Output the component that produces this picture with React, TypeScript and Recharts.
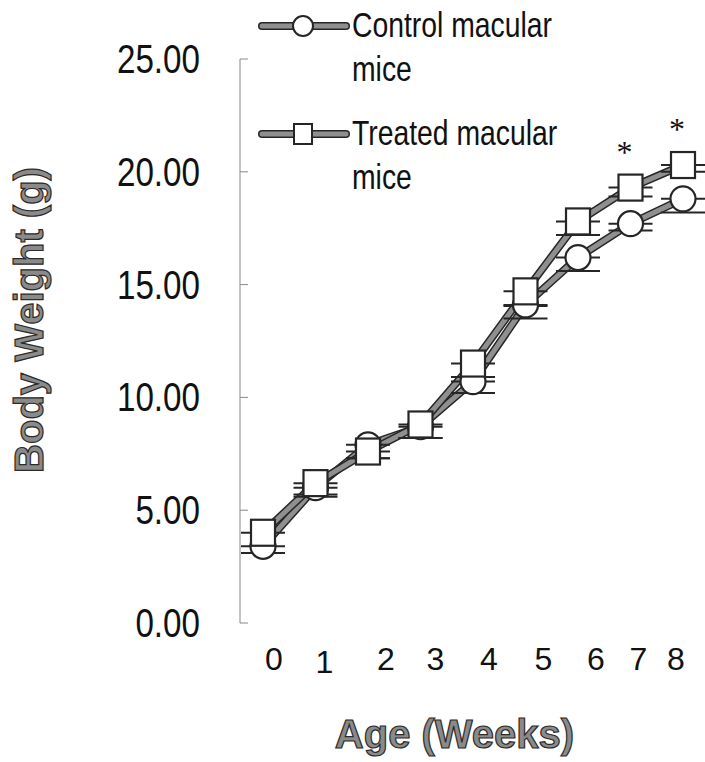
import { LineChart, Line, XAxis, YAxis, ErrorBar, Legend, Label } from 'recharts';

const weeks = [0, 1, 2, 3, 4, 5, 6, 7, 8];
const controlWeight = [3.4, 6.0, 7.9, 8.7, 10.7, 14.1, 16.2, 17.7, 18.8];
const treatedWeight = [4.0, 6.2, 7.6, 8.8, 11.5, 14.7, 17.8, 19.3, 20.3];
const controlErr = [0.3, 0.3, 0.6, 0.5, 0.5, 0.6, 0.6, 0.3, 0.6];
const treatedErr = [0.9, 0.6, 0.3, 0.6, 0.6, 0.65, 0.6, 0.4, 0.3];
const significance = ['', '', '', '', '', '', '', '*', '*'];
const yTicks = [0, 5, 10, 15, 20, 25];
const seriesNames = ['Control macular', 'Treated macular'];

// the x labels in the original sit a bit off their points
const xLabelShift = [11, 9, 18, 15, 16, 18, 18, 8, -7];

const data = weeks.map((w, i) => ({
    week: w,
    control: controlWeight[i],
    treated: treatedWeight[i],
    controlErr: [controlErr[i], 0],
    treatedErr: [treatedErr[i], 0],
    sig: significance[i],
}));

const OUTLINE = '#262626';
const BAND = '#8f8f8f';
const SANS = '"Liberation Sans", Arial, sans-serif';

const CircleDot = (props: any) => {
    const { cx, cy } = props;
    if (cx == null || cy == null) return null;
    return <circle key={`c${props.index}`} cx={cx} cy={cy} r={12.5} fill="#fff" stroke={OUTLINE} strokeWidth={2.2} />;
};

const SquareDot = (props: any) => {
    const { cx, cy, payload } = props;
    if (cx == null || cy == null) return null;
    return (
        <g key={`s${props.index}`}>
            <rect x={cx - 12} y={cy - 13} width={24} height={26} fill="#fff" stroke={OUTLINE} strokeWidth={2.2} />
            {payload.sig && (
                <text x={cx - 6} y={cy - 25} textAnchor="middle" fontSize={32} fontFamily='"Liberation Serif", serif' fill="#111">
                    {payload.sig}
                </text>
            )}
        </g>
    );
};

// narrow text: regular face squeezed sideways
const Narrow = ({ x, y, size, sx, anchor = 'start', children }: any) => (
    <text transform={`translate(${x} ${y}) scale(${sx} 1)`} textAnchor={anchor} fontSize={size} fontFamily={SANS} fill="#111">
        {children}
    </text>
);

const YTick = (props: any) => {
    const { x, y, payload } = props;
    return (
        <g>
            <line x1={x} x2={x + 8} y1={y} y2={y} stroke="#888" strokeWidth={1} />
            <Narrow x={x - 40} y={y + 14} size={40} sx={0.83} anchor="end">
                {payload.value.toFixed(2)}
            </Narrow>
        </g>
    );
};

const XTick = (props: any) => {
    const { x, y, payload, index } = props;
    return (
        <text x={x + (xLabelShift[index] ?? 0)} y={y + 47 + (payload.value === 1 ? 3 : 0)} textAnchor="middle" fontSize={32} fontFamily={SANS} fill="#111">
            {payload.value}
        </text>
    );
};

const titleStyle = { fontSize: 40, fontWeight: 700, fontFamily: SANS, fill: '#8a8a8a', stroke: '#2b2b2b', strokeWidth: 1.2 };

const XTitle = (props: any) => {
    const vb = props.viewBox;
    return (
        <text x={vb.x + vb.width / 2 - 13} y={vb.y + 125} textAnchor="middle" style={titleStyle}>
            Age (Weeks)
        </text>
    );
};

const YTitle = (props: any) => {
    const vb = props.viewBox;
    const cy = vb.y + vb.height / 2 - 21;
    return (
        <text x={43} y={cy} transform={`rotate(-90 43 ${cy})`} textAnchor="middle" style={titleStyle}>
            Body Weight (g)
        </text>
    );
};

const LegendBox = () => {
    const rows = [
        { y: 26, marker: 'circle' },
        { y: 134, marker: 'square' },
    ];
    return (
        <svg width={705} height={200} style={{ display: 'block' }}>
            {rows.map((r, i) => (
                <g key={i}>
                    <line x1={262} x2={346} y1={r.y} y2={r.y} stroke={OUTLINE} strokeWidth={8} strokeLinecap="round" />
                    <line x1={262} x2={346} y1={r.y} y2={r.y} stroke={BAND} strokeWidth={5} strokeLinecap="round" />
                    {r.marker === 'circle' ? (
                        <circle cx={303} cy={r.y} r={10} fill="#fff" stroke={OUTLINE} strokeWidth={2} />
                    ) : (
                        <rect x={294} y={r.y - 10} width={18} height={20} fill="#fff" stroke={OUTLINE} strokeWidth={2} />
                    )}
                    <Narrow x={352} y={r.y + 11} size={35} sx={0.81}>
                        {seriesNames[i]}
                    </Narrow>
                    <Narrow x={352} y={r.y + 55} size={35} sx={0.81}>
                        mice
                    </Narrow>
                </g>
            ))}
        </svg>
    );
};

export default function App() {
    return (
        <div style={{ position: 'absolute', left: 0, top: 0, background: '#fff' }}>
            <LineChart width={705} height={762} data={data} margin={{ top: 59, right: 10, bottom: 0, left: 0 }}>
                <XAxis
                    dataKey="week"
                    type="number"
                    domain={[0, 8]}
                    ticks={weeks}
                    interval={0}
                    padding={{ left: 23, right: 12 }}
                    axisLine={false}
                    tickLine={false}
                    tickSize={0}
                    tickMargin={0}
                    height={139}
                    tick={<XTick />}
                >
                    <Label content={<XTitle />} />
                </XAxis>
                <YAxis
                    type="number"
                    domain={[0, 25]}
                    ticks={yTicks}
                    width={240}
                    axisLine={{ stroke: '#888', strokeWidth: 1 }}
                    tickLine={false}
                    tickSize={0}
                    tickMargin={0}
                    tick={<YTick />}
                >
                    <Label content={<YTitle />} />
                </YAxis>
                <Legend verticalAlign="middle" align="center" layout="horizontal" wrapperStyle={{ top: 0, left: 0, width: 705, height: 200 }} content={<LegendBox />} />

                <Line dataKey="control" stroke={OUTLINE} strokeWidth={8} dot={false} isAnimationActive={false} legendType="none" />
                <Line dataKey="control" stroke={BAND} strokeWidth={5} dot={false} isAnimationActive={false} legendType="none" />
                <Line dataKey="treated" stroke={OUTLINE} strokeWidth={8} dot={false} isAnimationActive={false} legendType="none" />
                <Line dataKey="treated" stroke={BAND} strokeWidth={5} dot={false} isAnimationActive={false} legendType="none" />

                <Line dataKey="control" stroke="none" dot={CircleDot} isAnimationActive={false}>
                    <ErrorBar dataKey="controlErr" width={22} stroke={OUTLINE} strokeWidth={2} />
                </Line>
                <Line dataKey="treated" stroke="none" dot={SquareDot} isAnimationActive={false}>
                    <ErrorBar dataKey="treatedErr" width={22} stroke={OUTLINE} strokeWidth={2} />
                </Line>
            </LineChart>
        </div>
    );
}
